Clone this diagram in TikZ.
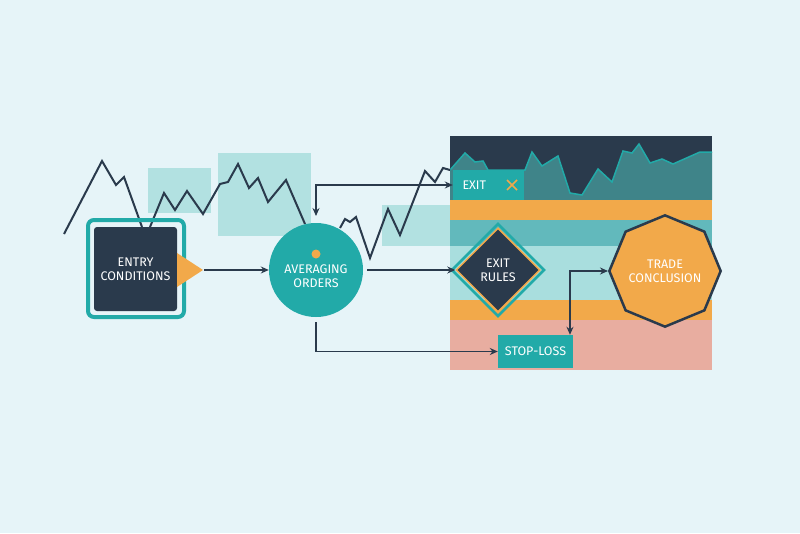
\documentclass[tikz,border=0pt]{standalone}
\usepackage{fontspec}
\setmainfont{Fira Sans}
\usetikzlibrary{shapes.geometric,arrows.meta}
\definecolor{bg}{HTML}{E6F4F8}
\definecolor{navy}{HTML}{2A3A4C}
\definecolor{tealc}{HTML}{22AAA8}
\definecolor{lteal}{HTML}{A9DEDE}
\definecolor{orng}{HTML}{F2A94A}
\definecolor{pink}{HTML}{E8ADA0}
\definecolor{midteal}{HTML}{62B9BC}
\definecolor{areat}{HTML}{3F8489}
\begin{document}
\begin{tikzpicture}[x=1pt,y=-1pt,
  lbl/.style={text=white,font=\fontsize{12.5}{14}\selectfont,align=center},
  arr/.style={navy,line width=1.5pt,-{Stealth[length=8pt,width=7pt]}},
  darr/.style={navy,line width=1.5pt,{Stealth[length=8pt,width=7pt]}-{Stealth[length=8pt,width=7pt]}},
  chart/.style={navy,line width=2pt,line join=miter}]
\fill[bg] (0,0) rectangle (800,533);
\useasboundingbox (0,0) rectangle (800,533);
% panel bands
\fill[navy] (450,136) rectangle (712,200);
\fill[areat] (450,170) -- (465,153) -- (475,162) -- (483,161) -- (488,170) -- (525,170) -- (532,152) -- (542,166) -- (558,156) -- (570,193) -- (582,195) -- (598,169) -- (612,182) -- (623,151) -- (632,153) -- (639,144) -- (650,163) -- (662,159) -- (673,164) -- (700,152) -- (712,152) -- (712,200) -- (450,200) -- cycle;
\draw[tealc,line width=1.5pt] (450,170) -- (465,153) -- (475,162) -- (483,161) -- (488,170) -- (525,170) -- (532,152) -- (542,166) -- (558,156) -- (570,193) -- (582,195) -- (598,169) -- (612,182) -- (623,151) -- (632,153) -- (639,144) -- (650,163) -- (662,159) -- (673,164) -- (700,152) -- (712,152);
\fill[orng] (450,200) rectangle (712,220);
\fill[midteal] (450,220) rectangle (712,246);
\fill[lteal] (450,246) rectangle (712,300);
\fill[orng] (450,300) rectangle (712,320);
\fill[pink] (450,320) rectangle (712,370);
% light rectangles
\fill[lteal,opacity=0.85] (148,168) rectangle (211,213);
\fill[lteal,opacity=0.85] (218,153) rectangle (311,236);
\fill[lteal,opacity=0.85] (382,205) rectangle (450,246);
% chart lines
\draw[chart] (64,234) -- (102,161) -- (116,185) -- (124,177) -- (142,227);
\draw[chart] (150,227) -- (164,193) -- (175,210) -- (187,191) -- (203,214) -- (220,184) -- (228,182) -- (238,164) -- (249,188) -- (258,178) -- (268,202) -- (286,180) -- (305,224);
\draw[chart] (340,228) -- (345,219) -- (350,222) -- (356,217) -- (370,258) -- (388,209) -- (400,235) -- (425,171) -- (435,182) -- (443,168) -- (450,170);
% entry
\node[draw=tealc,line width=4pt,rounded corners=6pt,minimum width=96pt,minimum height=97pt] (eo) at (136,268.5) {};
\node[fill=navy,rounded corners=3pt,minimum width=83pt,minimum height=84pt,lbl] (entry) at (135.5,269) {ENTRY\\CONDITIONS};
\fill[orng] (177,253) -- (203,270) -- (177,287) -- cycle;
\coordinate (tri) at (204,270);
% averaging
\node[circle,fill=tealc,minimum size=94pt,inner sep=0pt] (avg) at (316,270) {};
\node[lbl] at (316,276) {AVERAGING\\ORDERS};
\fill[orng] (316,254) circle (4.5);
% exit box
\node[fill=tealc,minimum width=71pt,minimum height=30pt] (exit) at (488.5,185) {};
\node[lbl,anchor=west] at (459,185) {EXIT};
\draw[orng,line width=1.6pt] (507,180) -- (517,190) (507,190) -- (517,180);
% diamond
\node[diamond,fill=navy,draw=orng,line width=1.5pt,minimum size=84pt,inner sep=0pt] (rules) at (498,270) {};
\draw[tealc,line width=2.5pt] (498,224) -- (544,270) -- (498,316) -- (452,270) -- cycle;
\node[lbl] at (498,270) {EXIT\\RULES};
% octagon
\node[regular polygon,regular polygon sides=8,shape border rotate=22.5,fill=orng,draw=navy,line width=2.5pt,minimum size=101pt,inner sep=0pt,lbl] (conc) at (665,271) {TRADE\\CONCLUSION};
% stop-loss
\node[fill=tealc,minimum width=75pt,minimum height=33pt,lbl] (stop) at (535.5,351.5) {STOP-LOSS};
% connectors
\coordinate (ae) at (367,270);
\coordinate (at) at (316,216);
\coordinate (ab) at (316,322);
\draw[arr] (tri) -- (avg.west);
\draw[arr] (ae) -- (ae -| rules.west);
\draw[darr] (at) |- (exit.west);
\draw[arr] (ab) |- (stop.west);
\draw[darr] (stop.north -| 570,0) -- (570,271) -- (conc.west);
\end{tikzpicture}
\end{document}
